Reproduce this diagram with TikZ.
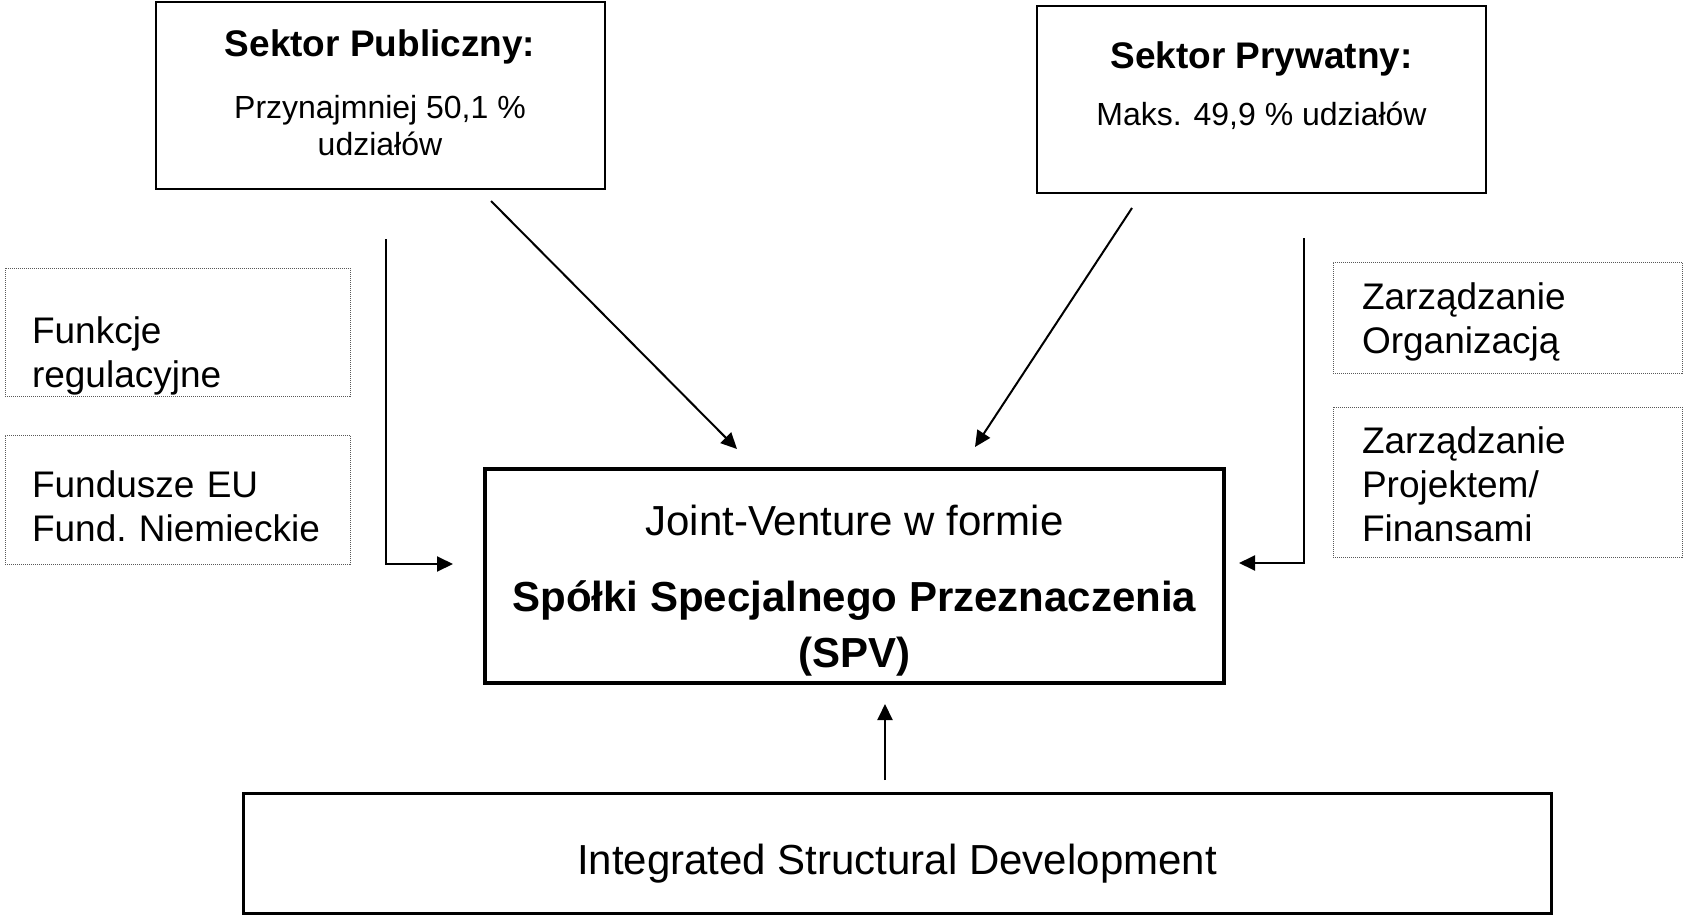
\documentclass[tikz,border=0pt]{standalone}
\usepackage{fontspec}
\setmainfont{Liberation Sans}
\usetikzlibrary{arrows.meta}

\tikzset{
	sektor/.style={draw, line width=2pt, minimum width=449pt, inner sep=2pt, align=center, font=\fontsize{32}{37}\selectfont},
	pole/.style={draw=black!65, line width=1pt, dash pattern=on 1pt off 1pt, align=left, inner xsep=27pt, text width=291pt, font=\fontsize{37}{44}\selectfont},
	conn/.style={line width=2pt, -{Triangle[length=16pt,width=15pt]}}
}

\begin{document}
\begin{tikzpicture}[x=1pt, y=-1pt]
			%%%%% START %%%%%
			\useasboundingbox (0,0) rectangle (1691,915);
			
			\node[sektor, minimum height=187pt, text height=119pt, text depth=0pt] (pub) at (380,95.5)
				{{\fontsize{37}{37}\selectfont\bfseries Sektor Publiczny:}\\[25pt]Przynajmniej 50,1 \%\\udziałów};
			\node[sektor, minimum height=187pt, text height=53pt, text depth=0pt] (priv) at (1261.5,99.5)
				{{\fontsize{37}{37}\selectfont\bfseries Sektor Prywatny:}\\[21pt]Maks. 49,9 \% udziałów};
			
			\node[pole, minimum width=341pt, minimum height=128pt, text height=52pt, text depth=30pt] (funk) at (177.5,332) {Funkcje\\regulacyjne};
			\node[pole, minimum width=341pt, minimum height=129pt, text height=30pt, text depth=35pt] (fund) at (177.5,499.5) {Fundusze~EU\\Fund.~Niemieckie};
			
			\node[pole, minimum width=349pt, minimum height=111pt, text height=30pt, text depth=47pt] (zorg) at (1507.5,317.5) {Zarządzanie\\Organizacją};
			\node[pole, minimum width=349pt, minimum height=150pt, text height=30pt, text depth=88pt] (zproj) at (1507.5,482) {Zarządzanie\\Projektem/\\Finansami};
			
			\node[draw, line width=3.5pt, minimum width=739pt, minimum height=214pt, inner sep=2pt, align=center,
				font=\fontsize{42}{56}\selectfont, text height=182pt, text depth=0pt] (spv) at (854.5,576)
				{Joint-Venture w formie\\[20pt]\textbf{Spółki Specjalnego Przeznaczenia}\\\textbf{(SPV)}};
			
			\node[draw, line width=3pt, minimum width=1308pt, minimum height=120pt,
				font=\fontsize{42}{50}\selectfont, text height=42pt, text depth=0pt] (isd) at (897,853)
				{Integrated Structural Development};
			
			% connector ends
			\coordinate (pubdown) at (386,239);
			\coordinate (publeft) at (453,564);
			\coordinate (pubdiag) at (491,201);
			\coordinate (spvnw) at (737,449);
			\coordinate (privdown) at (1304,238);
			\coordinate (privright) at (1239,563);
			\coordinate (privdiag) at (1132,208);
			\coordinate (spvne) at (975,447);
			\coordinate (isdup) at (885,780);
			\coordinate (spvs) at (885,704);
			
			\draw[conn] (pubdown) |- (publeft);
			\draw[conn] (pubdiag) -- (spvnw);
			\draw[conn] (privdown) |- (privright);
			\draw[conn] (privdiag) -- (spvne);
			\draw[conn] (isdup) -- (spvs);
			
			%%%%% END %%%%%
\end{tikzpicture}
\end{document}
